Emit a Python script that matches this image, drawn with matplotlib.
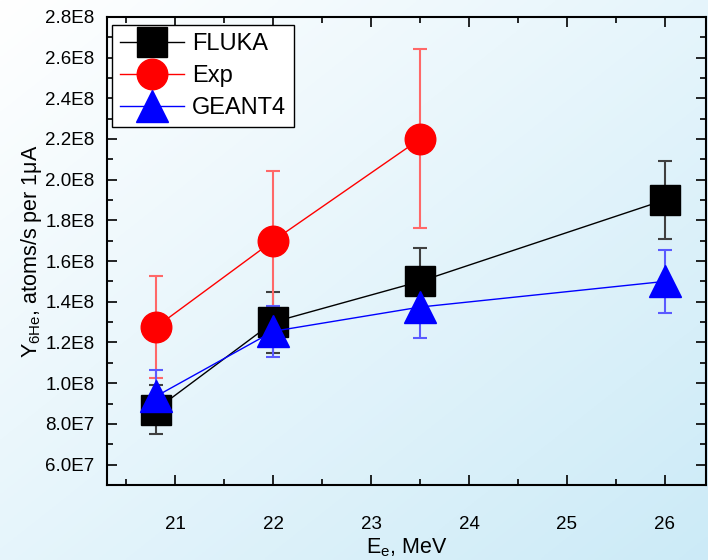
import numpy as np
import matplotlib
matplotlib.use("Agg")
import matplotlib.pyplot as plt
from matplotlib.ticker import MultipleLocator, FuncFormatter

plt.rcParams['font.family'] = ['Liberation Sans', 'DejaVu Sans']

# data
energy = [20.8, 22.0, 23.5, 26.0]
fluka = [8.7e7, 1.30e8, 1.50e8, 1.90e8]
fluka_err = [1.2e7, 1.5e7, 1.65e7, 1.9e7]

exp_energy = [20.8, 22.0, 23.5]
exp = [1.275e8, 1.70e8, 2.20e8]
exp_err = [2.5e7, 3.4e7, 4.4e7]

geant = [9.35e7, 1.255e8, 1.374e8, 1.50e8]
geant_err = [1.3e7, 1.25e7, 1.5e7, 1.55e7]

x_ticks = [21, 22, 23, 24, 25, 26]
y_ticks = [6e7, 8e7, 1e8, 1.2e8, 1.4e8, 1.6e8, 1.8e8, 2.0e8, 2.2e8, 2.4e8, 2.6e8, 2.8e8]

fig = plt.figure(figsize=(7.08, 5.6), dpi=100)

# gradient background: white top-left -> light blue bottom-right
bg = fig.add_axes([0, 0, 1, 1], zorder=-10)
gx, gy = np.meshgrid(np.linspace(0, 1, 200), np.linspace(0, 1, 200))
t = (gx + gy) / 2
c0 = np.array([1.0, 1.0, 1.0])
c1 = np.array([0.80, 0.92, 0.97])
img = c0[None, None, :] * (1 - t[..., None]) + c1[None, None, :] * t[..., None]
bg.imshow(img, aspect='auto', extent=[0, 1, 0, 1], origin='upper')
bg.axis('off')

ax = fig.add_axes([0.151, 0.134, 0.846, 0.836])
ax.patch.set_alpha(0)

ms = 21
ax.errorbar(energy, fluka, yerr=fluka_err, fmt='none', ecolor='#404040', elinewidth=1.5, capsize=5, capthick=1.5, zorder=2)
ax.errorbar(exp_energy, exp, yerr=exp_err, fmt='none', ecolor='#ff6868', elinewidth=1.5, capsize=5, capthick=1.5, zorder=2)
ax.errorbar(energy, geant, yerr=geant_err, fmt='none', ecolor='#5a5aff', elinewidth=1.5, capsize=5, capthick=1.5, zorder=2)

ax.plot(energy, fluka, color='black', lw=1, marker='s', ms=ms, mfc='black', mec='black', label='FLUKA', zorder=3)
ax.plot(exp_energy, exp, color='red', lw=1, marker='o', ms=ms + 1, mfc='red', mec='red', label='Exp', zorder=3)
ax.plot(energy, geant, color='blue', lw=1, marker='^', ms=ms + 2, mfc='blue', mec='blue', label='GEANT4', zorder=4)

ax.set_xlim(20.3, 26.42)
ax.set_ylim(5e7, 2.8e8)
ax.set_xticks(x_ticks)
ax.set_yticks(y_ticks)
ax.xaxis.set_minor_locator(MultipleLocator(0.5))
ax.yaxis.set_minor_locator(MultipleLocator(1e7))

def sci(v, pos):
    e = int(np.floor(np.log10(v)))
    return '%.1fE%d' % (v / 10 ** e, e)

ax.yaxis.set_major_formatter(FuncFormatter(sci))
ax.tick_params(which='both', direction='in', top=True, right=True, labelsize=13.5, width=1.2)
ax.tick_params(which='major', length=7)
ax.tick_params(axis='x', which='major', pad=22)
ax.tick_params(axis='y', which='major', pad=9)
ax.tick_params(which='minor', length=4)
for s in ax.spines.values():
    s.set_linewidth(1.5)

ax.set_xlabel('E$_\\mathregular{e}$, MeV', fontsize=15.5, labelpad=3)
ax.set_ylabel('Y$_\\mathregular{6He}$, atoms/s per 1\u03bcA', fontsize=15.5, labelpad=1)

leg = ax.legend(loc='upper left', fontsize=17, frameon=True, fancybox=False, edgecolor='black',
                framealpha=1, handlelength=2.7, borderpad=0.35, labelspacing=0.42,
                handletextpad=0.35, borderaxespad=0, bbox_to_anchor=(0.008, 0.983), markerscale=1.0)
leg.get_frame().set_linewidth(1.0)

fig.savefig('out.png', dpi=100)
